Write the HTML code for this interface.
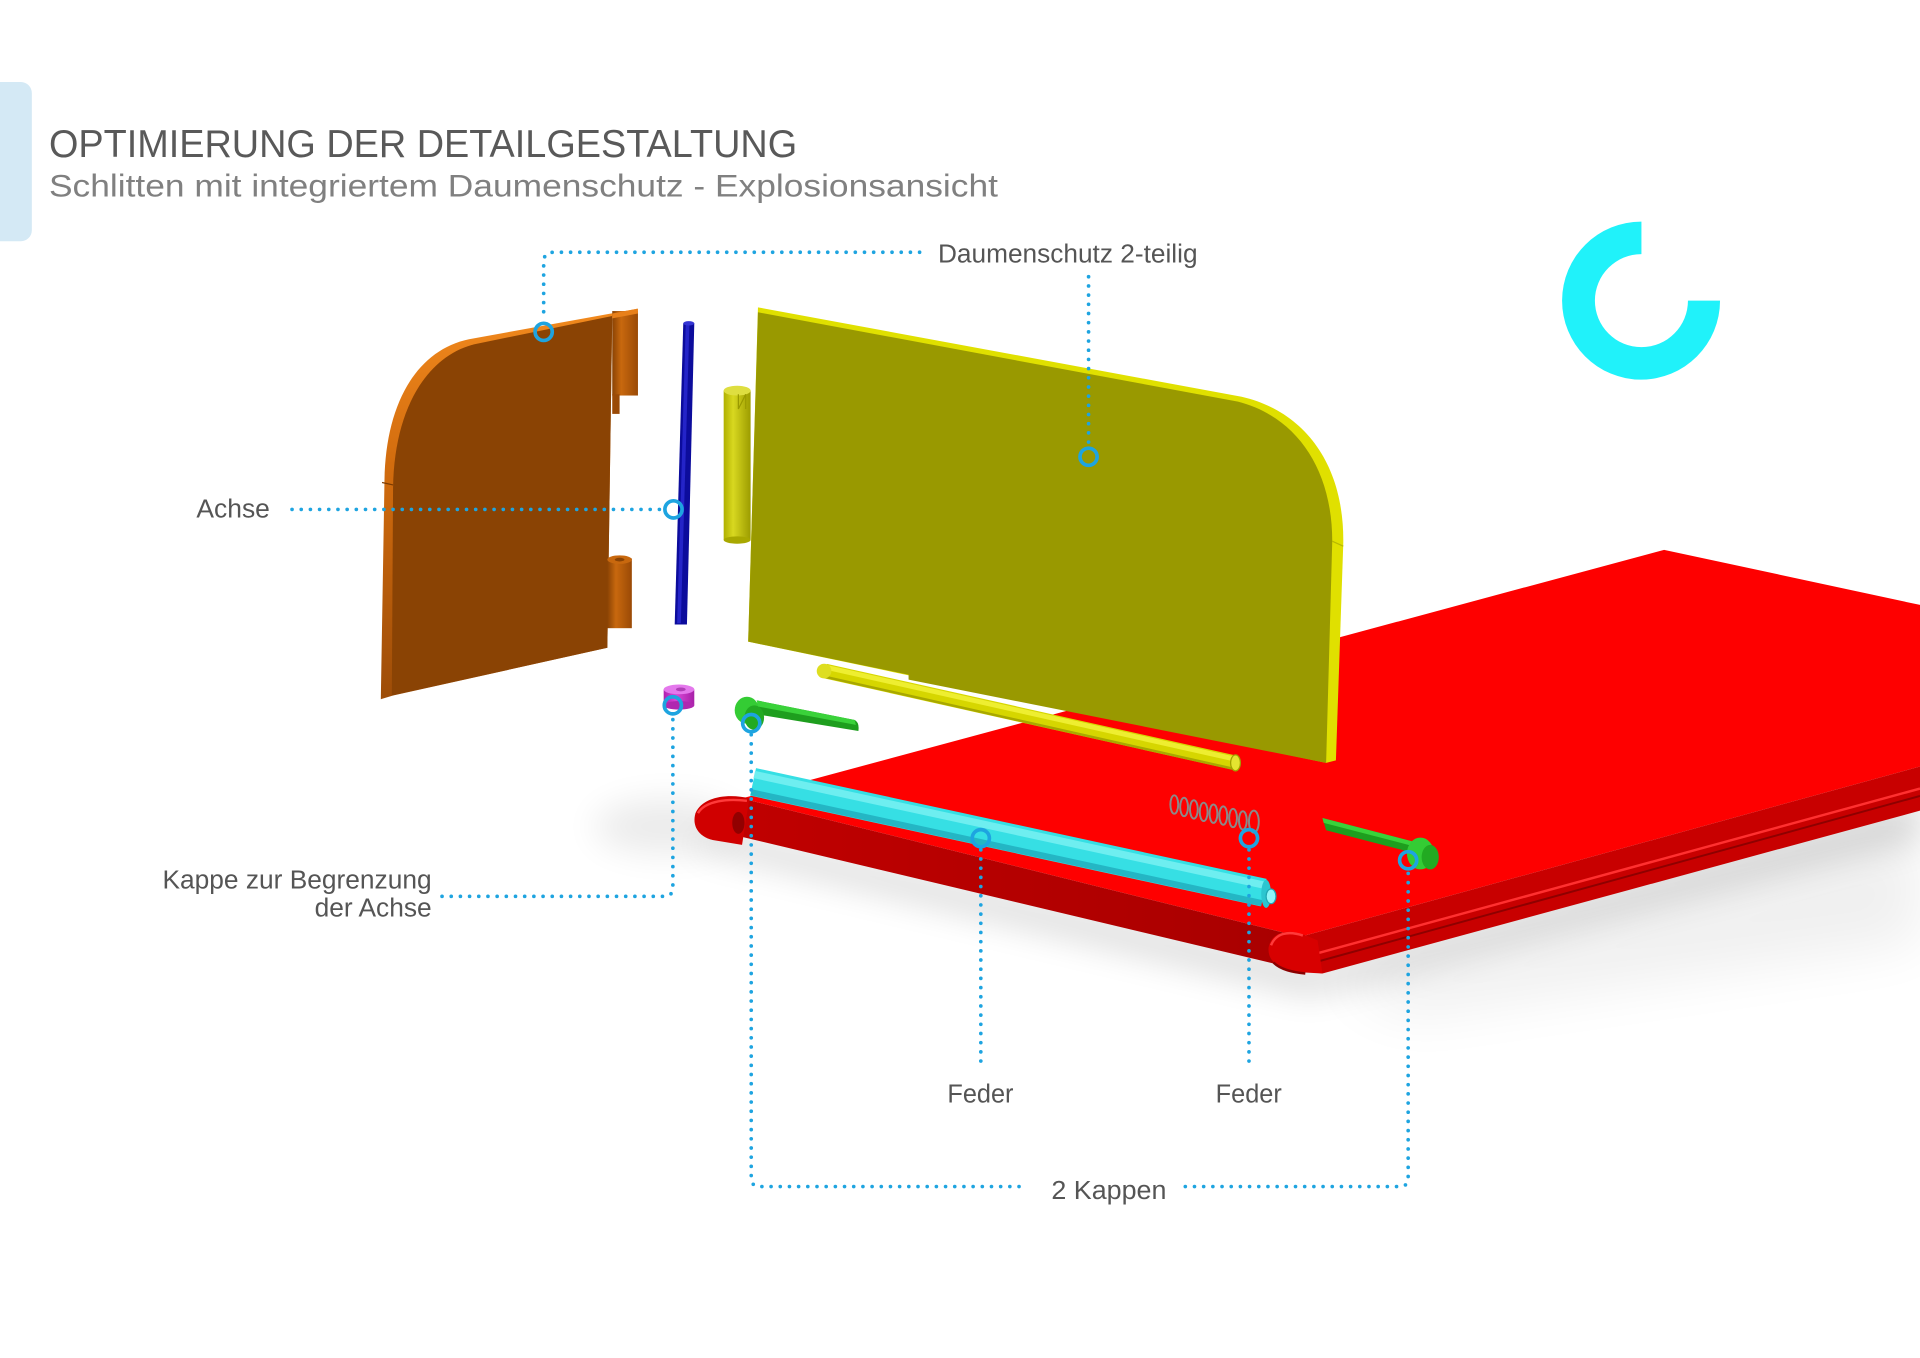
<!DOCTYPE html>
<html><head><meta charset="utf-8">
<style>
html,body{margin:0;padding:0;background:#fff;}
svg{display:block;}
</style></head><body>
<svg width="1920" height="1358" viewBox="0 0 1568 1109" xmlns="http://www.w3.org/2000/svg">
<defs>
  <filter id="blur" x="-30%" y="-80%" width="160%" height="260%"><feGaussianBlur stdDeviation="14"/></filter>
  <filter id="blur2" x="-30%" y="-80%" width="160%" height="260%"><feGaussianBlur stdDeviation="22"/></filter>
  <linearGradient id="orEdge" x1="0" y1="250" x2="0" y2="575" gradientUnits="userSpaceOnUse">
    <stop offset="0" stop-color="#f28a1e"/><stop offset="0.4" stop-color="#d26c0e"/><stop offset="1" stop-color="#9c4c08"/>
  </linearGradient>
  <linearGradient id="knuck" x1="0" y1="0" x2="1" y2="0">
    <stop offset="0" stop-color="#8a4304"/><stop offset="0.35" stop-color="#c8680e"/><stop offset="1" stop-color="#9a4a06"/>
  </linearGradient>
  <linearGradient id="yh" x1="0" y1="0" x2="1" y2="0">
    <stop offset="0" stop-color="#b0b000"/><stop offset="0.35" stop-color="#d8d820"/><stop offset="1" stop-color="#9c9c00"/>
  </linearGradient>
  <linearGradient id="frontFace" x1="0" y1="0" x2="1" y2="0">
    <stop offset="0" stop-color="#c00000"/><stop offset="1" stop-color="#a80000"/>
  </linearGradient>
  <linearGradient id="mag" x1="0" y1="0" x2="1" y2="0">
    <stop offset="0" stop-color="#b020b0"/><stop offset="0.4" stop-color="#d848d8"/><stop offset="1" stop-color="#a820a8"/>
  </linearGradient>
</defs>

<!-- left tab -->
<rect x="-12" y="67" width="38" height="130" rx="9" fill="#d4e9f5"/>

<!-- titles -->
<text x="40" y="128" font-family="'Liberation Sans', Arial, sans-serif" font-size="31.5" fill="#595959" textLength="611" lengthAdjust="spacingAndGlyphs">OPTIMIERUNG DER DETAILGESTALTUNG</text>
<text x="40" y="160.6" font-family="'Liberation Sans', Arial, sans-serif" font-size="25.4" fill="#808080" textLength="775" lengthAdjust="spacingAndGlyphs">Schlitten mit integriertem Daumenschutz - Explosionsansicht</text>

<!-- cyan logo ring -->
<path d="M1340.5 181 A64.5 64.5 0 1 0 1404.7 245.5 L1378.5 245.5 A38 38 0 1 1 1340.5 207.5 Z" fill="#20f2fa"/>

<!-- shadows -->
<path d="M560 690 L1070 812 L1568 685 L1568 650 L1080 790 L600 680 Z" fill="#000" opacity="0.15" filter="url(#blur)"/>
<path d="M1090 800 L1568 675 L1568 770 L1150 830 Z" fill="#000" opacity="0.06" filter="url(#blur2)"/>
<ellipse cx="545" cy="675" rx="60" ry="22" fill="#000" opacity="0.08" filter="url(#blur)"/>

<!-- red plate -->
<path d="M606 652 L1359 449 L1568 494 L1568 626 L1062 765 Z" fill="#fe0000"/>
<path d="M1062 765 L1568 626 L1568 662 L1080 795 L1062 792 Z" fill="#c80000"/>
<path d="M1074 779 L1568 644" stroke="#ff3030" stroke-width="2" fill="none"/>
<path d="M1077 785 L1568 650" stroke="#8e0000" stroke-width="1.6" fill="none"/>
<path d="M606 652 L1062 765 L1062 792 L600 682 Z" fill="url(#frontFace)"/>
<!-- left knuckle -->
<path d="M612 652 C596 648 574 650 568 664 C565 674 570 683 582 686 L606 690 Z" fill="#d00000"/>
<path d="M570 664 C576 654 594 652 610 654" stroke="#ff3a3a" stroke-width="2" fill="none"/>
<ellipse cx="603" cy="672" rx="5" ry="9" fill="#920000"/>
<!-- right knuckle -->
<path d="M1064 763 C1050 758 1038 762 1036 774 C1035 786 1046 792 1062 794 L1080 795 L1076 768 Z" fill="#d80000"/>
<path d="M1038 772 C1042 762 1052 760 1064 764" stroke="#ff3a3a" stroke-width="2" fill="none"/>
<path d="M1040 786 C1046 792 1056 794 1066 795" stroke="#8a0000" stroke-width="2" fill="none"/>

<!-- yellow hinge cylinder -->
<rect x="591" y="319" width="22" height="122" fill="url(#yh)"/>
<ellipse cx="602" cy="441" rx="11" ry="3" fill="#a8a800"/>
<ellipse cx="602" cy="319" rx="11" ry="4" fill="#dede40"/>
<path d="M603 322 L603 334 L609 322 L609 334" stroke="#9a9a00" stroke-width="1" fill="none"/>

<!-- yellow panel -->
<path d="M619 251 L1014 324 C1066 336 1098 380 1097 444 L1091 621 L1083 623 L611 524 Z" fill="#e0e000"/>
<path d="M619 255 L1011 328 C1058 340 1088 382 1088 442 L1083 623 L742 555 L742 551 L611 524 Z" fill="#999900"/>
<path d="M1088 442 L1097 446" stroke="#b8b800" stroke-width="1" fill="none"/>

<!-- yellow rod -->
<line x1="674" y1="548" x2="1009" y2="623" stroke="#d6d600" stroke-width="12"/>
<line x1="675" y1="545" x2="1009" y2="620" stroke="#eeee30" stroke-width="4"/>
<line x1="673" y1="552.5" x2="1008" y2="628" stroke="#a8a800" stroke-width="2"/>
<circle cx="673" cy="548" r="6" fill="#dede20"/>
<ellipse cx="1009" cy="623" rx="4" ry="6.5" fill="#e4e430" stroke="#a0a000" stroke-width="1"/>

<!-- green cap 1 -->
<path d="M618 572 L698 588 Q702 590 701 597 L622 584 Z" fill="#1e9e1e"/>
<path d="M618 572 L698 588 L699 592 L619 577 Z" fill="#3ad23a"/>
<ellipse cx="610" cy="580" rx="10" ry="11" fill="#34cc34"/>
<ellipse cx="616" cy="586" rx="8" ry="10" fill="#22aa22"/>

<!-- magenta cap -->
<rect x="542" y="563" width="25" height="13" fill="url(#mag)"/>
<ellipse cx="554.5" cy="576" rx="12.5" ry="3.5" fill="#b028b0"/>
<ellipse cx="554.5" cy="563" rx="12.5" ry="4" fill="#e478ec"/>
<ellipse cx="556" cy="563" rx="4" ry="1.6" fill="#b040b8"/>

<!-- cyan rod -->
<line x1="615" y1="638.5" x2="1032" y2="729" stroke="#36dfe4" stroke-width="23"/>
<line x1="616" y1="632.5" x2="1033" y2="723" stroke="#6eeef0" stroke-width="6"/>
<line x1="613.5" y1="647" x2="1030.5" y2="737.5" stroke="#24b6c4" stroke-width="5"/>
<ellipse cx="1034" cy="730" rx="4" ry="11.5" fill="#2cc6d0"/>
<ellipse cx="1038" cy="732" rx="4" ry="6" fill="#8ff6f8" stroke="#20a8b4" stroke-width="1"/>

<!-- spring -->
<g stroke="#8a8a8a" stroke-width="1.6" fill="none">
  <ellipse cx="959" cy="657" rx="3.2" ry="7.5"/>
  <ellipse cx="967" cy="659" rx="3.2" ry="7.5"/>
  <ellipse cx="975" cy="661" rx="3.2" ry="7.5"/>
  <ellipse cx="983" cy="663" rx="3.2" ry="7.5"/>
  <ellipse cx="991" cy="664.5" rx="3.2" ry="7.5"/>
  <ellipse cx="999" cy="666" rx="3.2" ry="7.5"/>
  <ellipse cx="1007" cy="668" rx="3.2" ry="7.5"/>
  <ellipse cx="1015" cy="670" rx="3.2" ry="7.5"/>
  <ellipse cx="1024" cy="671" rx="4" ry="9"/>
</g>

<!-- green cap 2 -->
<path d="M1080 668 L1157 688 L1160 698 L1083 678 Z" fill="#1e9e1e"/>
<path d="M1080 668 L1157 688 L1158 692 L1081 672 Z" fill="#3ad23a"/>
<ellipse cx="1160" cy="697" rx="11" ry="13" fill="#34cc34"/>
<ellipse cx="1168" cy="700" rx="7" ry="10" fill="#22aa22"/>

<!-- orange panel -->
<path d="M521 252 L383 277 C340 286 315 330 314 392 L311 571 L321 568 L496 529 L500 258 Z" fill="url(#orEdge)"/>
<path d="M500 258 L388 281 C350 290 322 332 321 398 L320 568 L496 529 Z" fill="#8a4304"/>
<line x1="312" y1="394" x2="321" y2="396" stroke="#7a3a02" stroke-width="1"/>
<!-- knuckles -->
<rect x="500" y="254" width="21" height="69" fill="url(#knuck)"/>
<path d="M500 256 L521 252 L521 256 L500 260 Z" fill="#e8801a"/>
<rect x="500" y="322" width="6" height="16" fill="#9a4a06"/>
<rect x="496" y="456" width="20" height="57" fill="url(#knuck)"/>
<ellipse cx="506" cy="457" rx="10" ry="3.5" fill="#c8680e"/>
<ellipse cx="506" cy="457" rx="4" ry="1.5" fill="#8a4304"/>

<!-- blue rod -->
<path d="M558 264 L567 264 L561 510 L551 510 Z" fill="#0c0c9c"/>
<path d="M560 265 L563 265 L556 509 L553 509 Z" fill="#2424c8"/>
<ellipse cx="562.5" cy="264" rx="4.5" ry="1.8" fill="#3434d4"/>

<!-- dotted leader lines -->
<g stroke="#1ea4e0" stroke-width="3" stroke-dasharray="0 7.5" stroke-linecap="round" fill="none">
  <path d="M751 206 H452 Q444 206 444 214 V262"/>
  <path d="M889 226 V364"/>
  <path d="M238.5 416 H541"/>
  <path d="M361 732 H542 Q549.5 732 549.5 725 V585"/>
  <path d="M801 694 V872"/>
  <path d="M1020 694 V870"/>
  <path d="M613.5 600 V962 Q613.5 969 620.5 969 H837"/>
  <path d="M968 969 H1143 Q1150 969 1150 962 V712"/>
</g>
<g stroke="#1ea4e0" stroke-width="3" fill="none">
  <circle cx="444" cy="271" r="7"/>
  <circle cx="889" cy="373" r="7"/>
  <circle cx="550" cy="416" r="7"/>
  <circle cx="549.5" cy="576" r="7"/>
  <circle cx="613.5" cy="590.5" r="7"/>
  <circle cx="801" cy="684.5" r="7"/>
  <circle cx="1020" cy="684.5" r="7"/>
  <circle cx="1150" cy="702.5" r="7"/>
</g>

<!-- labels -->
<g font-family="'Liberation Sans', Arial, sans-serif" font-size="21.5" fill="#555555">
  <text x="766" y="214.2" textLength="212" lengthAdjust="spacingAndGlyphs">Daumenschutz 2-teilig</text>
  <text x="160.4" y="422.5" textLength="60" lengthAdjust="spacingAndGlyphs">Achse</text>
  <text x="352.5" y="725.5" text-anchor="end">Kappe zur Begrenzung</text>
  <text x="352.5" y="748.6" text-anchor="end">der Achse</text>
  <text x="773.7" y="900.5" textLength="54" lengthAdjust="spacingAndGlyphs">Feder</text>
  <text x="992.8" y="900.5" textLength="54" lengthAdjust="spacingAndGlyphs">Feder</text>
  <text x="858.6" y="979" textLength="94" lengthAdjust="spacingAndGlyphs">2 Kappen</text>
</g>
</svg>
</body></html>
